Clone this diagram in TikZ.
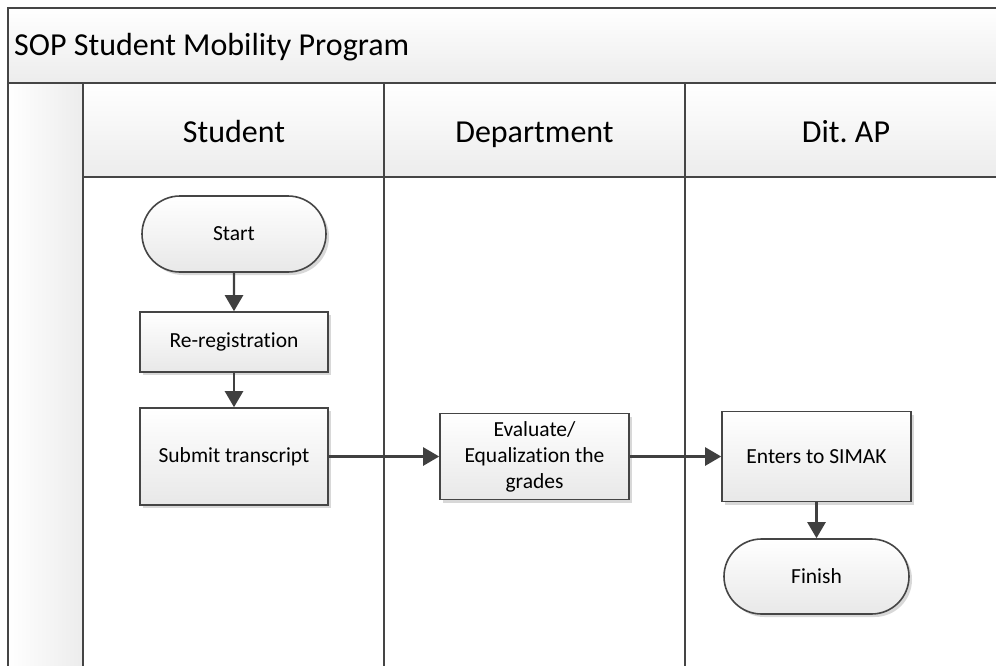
\documentclass[tikz,border=0pt]{standalone}
\usepackage{fontspec}
\setmainfont{Carlito}[Ligatures=NoCommon]
\usetikzlibrary{shapes.misc,shadows,arrows.meta}
\definecolor{linec}{HTML}{454545}
\definecolor{arrowc}{HTML}{404040}
\definecolor{bandgray}{HTML}{ECECEC}
\definecolor{boxgray}{HTML}{E8E8E8}
\begin{document}
\begin{tikzpicture}[x=1pt,y=-1pt,
  frameline/.style={draw=linec,line width=2pt},
  bigtext/.style={font=\fontsize{32}{38}\selectfont,inner sep=0pt},
  shapebase/.style={draw=linec,line width=1.6pt,top color=white,bottom color=boxgray,
    align=center,font=\fontsize{21.5}{26}\selectfont,inner sep=2pt,
    drop shadow={shadow xshift=3pt,shadow yshift=-3pt,opacity=0.25,fill=black!60}},
  procbox/.style={shapebase,rectangle,minimum width=189pt},
  termbox/.style={shapebase,rounded rectangle,minimum width=189pt,minimum height=76pt},
  flow/.style={draw=arrowc,line width=2.4pt,-{Triangle[length=16pt,width=18pt]}}
]
\useasboundingbox (0,0) rectangle (996,665);
\begin{scope}
\clip (0,0) rectangle (996,665);
\fill[white] (0,0) rectangle (996,665);
% title band
\shade[top color=white,bottom color=bandgray] (8,8) rectangle (1000,83);
% left band
\shade[left color=white,right color=bandgray] (8,83) rectangle (83,670);
% headers
\shade[top color=white,bottom color=bandgray] (83,83) rectangle (1000,177);
% lines
\draw[frameline] (8,670) -- (8,8) -- (1000,8);
\draw[frameline] (8,83) -- (1000,83);
\draw[frameline] (83,83) -- (83,670);
\draw[frameline] (83,177) -- (1000,177);
\draw[frameline] (384,83) -- (384,670);
\draw[frameline] (685,83) -- (685,670);
\end{scope}
\node[bigtext,anchor=base west] (title) at (14,55) {SOP Student Mobility Program};
\node[bigtext,anchor=base] (hstu) at (234,142) {Student};
\node[bigtext,anchor=base] (hdep) at (534.5,142) {Department};
\node[bigtext,anchor=base] (hdit) at (846,142) {Dit.\ AP};

\node[termbox,minimum width=188pt] (start) at (234,234) {Start};
\node[procbox,minimum width=188pt,minimum height=60pt] (rereg) at (234,342) {Re-registration};
\node[procbox,minimum width=188pt,minimum height=97pt] (submit) at (234,456.5) {Submit transcript};
\node[procbox,minimum height=86pt] (eval) at (534.5,456.5) {Evaluate/\\Equalization the\\grades};
\node[procbox,minimum height=90pt] (simak) at (816.5,456.5) {Enters to SIMAK};
\node[termbox,minimum height=75pt] (finish) at (816.5,576.5) {Finish};

\draw[flow] (start) -- (rereg);
\draw[flow] (rereg) -- (submit);
\draw[flow] (submit) -- (eval);
\draw[flow] (eval) -- (simak);
\draw[flow] (simak) -- (finish);
\end{tikzpicture}
\end{document}
